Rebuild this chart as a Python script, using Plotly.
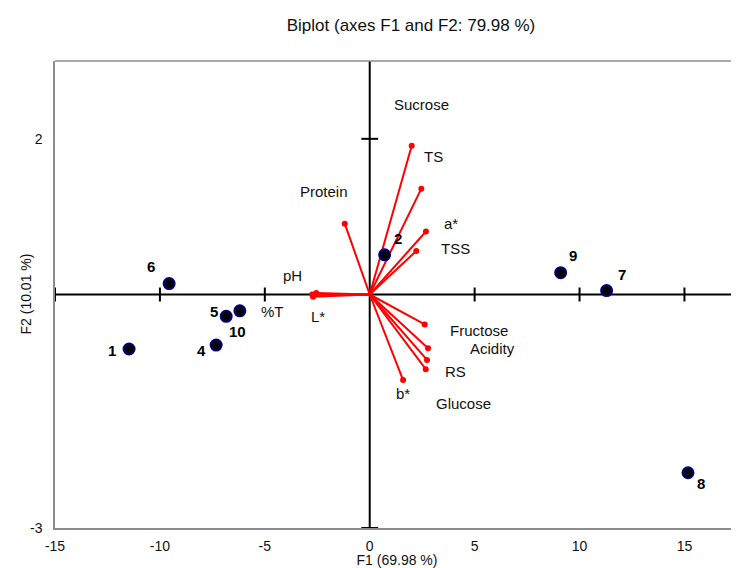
import plotly.graph_objects as go

# ---------------- data ----------------
obs_names = ['1', '2', '4', '5', '6', '7', '8', '9', '10']
obs_f1 = [-11.47, 0.71, -7.32, -6.84, -9.56, 11.29, 15.17, 9.10, -6.19]
obs_f2 = [-0.70, 0.51, -0.65, -0.28, 0.14, 0.05, -2.29, 0.28, -0.21]

var_names = ['Sucrose', 'TS', 'a*', 'TSS', 'Protein', 'pH', '%T', 'L*',
             'Fructose', 'Acidity', 'RS', 'Glucose', 'b*']
var_f1 = [2.00, 2.46, 2.68, 2.22, -1.19, -2.55, -2.74, -2.70,
          2.62, 2.78, 2.73, 2.67, 1.59]
var_f2 = [1.91, 1.36, 0.81, 0.56, 0.91, 0.02, 0.00, -0.03,
          -0.385, -0.69, -0.84, -0.96, -1.10]

x_ticks = [-15, -10, -5, 0, 5, 10, 15]
x_tick_labels = ['-15', '-10', '-5', '0', '5', '10', '15']
y_ticks = [-3, 2]
y_tick_labels = ['-3', '2']
title_text = 'Biplot (axes F1 and F2: 79.98 %)'
x_title = 'F1 (69.98 %)'
y_title = 'F2 (10.01 %)'

# ---------------- styling ----------------
FONT = 'Liberation Sans, Arial, sans-serif'
XR = [-15, 17.6]
YR = [-3, 3]
W, H = 731, 560  # page adds an 8px body margin
ML = 47
# label offsets in pixels (dx right, dy down)
var_label_shift = {
    'Sucrose': (10, -41), 'TS': (12, -32), 'a*': (25, -8), 'TSS': (39, -2),
    'Protein': (-21, -32), 'pH': (-24, -17), '%T': (-40, 17), 'L*': (5, 20),
    'Fructose': (54, 6), 'Acidity': (64, 0), 'RS': (28, 12),
    'Glucose': (38, 34), 'b*': (0, 13),
}
obs_label_shift = {
    '1': (-17, 2), '2': (13, -16), '4': (-15, 5), '5': (-12, -5),
    '6': (-18, -17), '7': (15, -16), '8': (13, 11), '9': (12, -17),
    '10': (-2, 21),
}

fig = go.Figure()

# inner axes lines
fig.add_shape(type='line', xref='x', yref='y', x0=XR[0], x1=XR[1], y0=0, y1=0,
              line=dict(color='black', width=2), layer='below')
fig.add_shape(type='line', xref='x', yref='y', x0=0, x1=0, y0=YR[0], y1=YR[1],
              line=dict(color='black', width=2), layer='below')
# top frame line
fig.add_shape(type='line', xref='paper', yref='paper', x0=0, x1=1, y0=1, y1=1,
              line=dict(color='#8c8c8c', width=1.5))

# tick marks on the inner axes
hx = [t for t in x_ticks if t != 0]
fig.add_trace(go.Scatter(x=hx, y=[0] * len(hx), mode='markers',
                         marker=dict(symbol='line-ns', size=10,
                                     line=dict(color='black', width=2)),
                         hoverinfo='skip', showlegend=False, cliponaxis=False))
fig.add_trace(go.Scatter(x=[0] * len(y_ticks), y=y_ticks, mode='markers',
                         marker=dict(symbol='line-ew', size=12,
                                     line=dict(color='black', width=2)),
                         hoverinfo='skip', showlegend=False, cliponaxis=False))

# vectors
vx, vy = [], []
for a, b in zip(var_f1, var_f2):
    vx += [0, a, None]
    vy += [0, b, None]
fig.add_trace(go.Scatter(x=vx, y=vy, mode='lines',
                         line=dict(color='#ff0000', width=2),
                         hoverinfo='skip', showlegend=False))
fig.add_trace(go.Scatter(x=var_f1, y=var_f2, mode='markers',
                         marker=dict(color='#ff0000', size=6),
                         text=var_names, showlegend=False))

# variable labels
for n, a, b in zip(var_names, var_f1, var_f2):
    dx, dy = var_label_shift[n]
    fig.add_annotation(x=a, y=b, text=n, showarrow=False, xshift=dx, yshift=-dy,
                       font=dict(family=FONT, size=15, color='#111111'))

# observations
fig.add_trace(go.Scatter(x=obs_f1, y=obs_f2, mode='markers',
                         text=obs_names,
                         marker=dict(color='black', size=11,
                                     line=dict(color='#000080', width=2)),
                         showlegend=False, cliponaxis=False))
for n, a, b in zip(obs_names, obs_f1, obs_f2):
    dx, dy = obs_label_shift[n]
    fig.add_annotation(x=a, y=b, text='<b>%s</b>' % n, showarrow=False,
                       xshift=dx, yshift=-dy,
                       font=dict(family=FONT, size=15, color='black'))

# y-axis title as a rotated annotation
fig.add_annotation(xref='paper', yref='paper', x=(17 - ML) / (W - ML), y=0.5,
                   text=y_title, textangle=-90, showarrow=False,
                   xanchor='center', yanchor='middle',
                   font=dict(family=FONT, size=14, color='#111111'))

fig.update_layout(
    width=W, height=H,
    margin=dict(l=ML, r=0, t=53, b=40),
    paper_bgcolor='white', plot_bgcolor='white',
    font=dict(family=FONT, size=14, color='#111111'),
    title=dict(text=title_text, x=403 / W, xanchor='center', xref='container',
               y=1 - 17 / H, yanchor='middle', yref='container',
               font=dict(family=FONT, size=17, color='#111111')),
    xaxis=dict(range=XR, tickvals=x_ticks, ticktext=x_tick_labels, ticks='',
               showgrid=False, zeroline=False, automargin=False,
               showline=True, linecolor='#8c8c8c', linewidth=1.5,
               tickfont=dict(size=14), ticklabelstandoff=4,
               title=dict(text=x_title, standoff=0, font=dict(size=14))),
    yaxis=dict(range=YR, tickvals=y_ticks, ticktext=y_tick_labels, ticks='',
               showgrid=False, zeroline=False, automargin=False,
               showline=True, linecolor='#8c8c8c', linewidth=1.5,
               tickfont=dict(size=14), ticklabelstandoff=8),
)

fig.write_html('out.html')
